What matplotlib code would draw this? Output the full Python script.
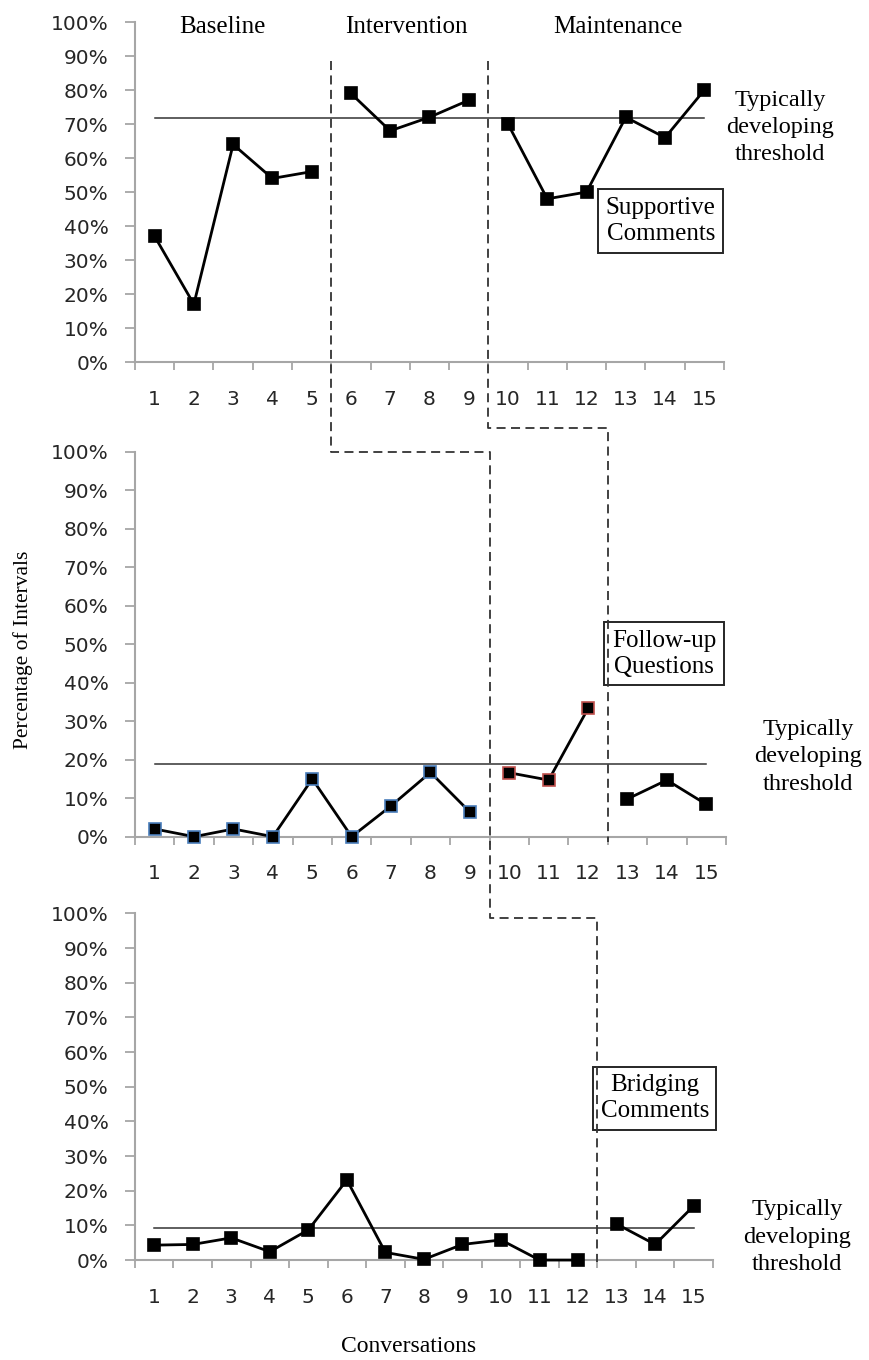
import numpy as np
import matplotlib.pyplot as plt
from matplotlib.lines import Line2D
from matplotlib.ticker import PercentFormatter

# conversation numbers
conv = np.arange(1, 16)

# percentage of intervals per conversation (fractions)
supportive = [0.37, 0.17, 0.64, 0.54, 0.56, 0.79, 0.68, 0.72, 0.77, 0.70, 0.48, 0.50, 0.72, 0.66, 0.80]
followup = [0.02, 0.00, 0.02, 0.00, 0.15, 0.00, 0.08, 0.167, 0.064, 0.166, 0.147, 0.333, 0.098, 0.147, 0.084]
bridging = [0.043, 0.045, 0.064, 0.024, 0.087, 0.231, 0.022, 0.002, 0.045, 0.058, 0.0, 0.0, 0.104, 0.045, 0.156]

# typically developing thresholds
thr_supportive = 0.717
thr_followup = 0.19
thr_bridging = 0.093

# phase segments (start, end) for each behaviour, 1-based conversations
seg_supportive = [(1, 5), (6, 9), (10, 15)]
seg_followup = [(1, 9), (10, 12), (13, 15)]
seg_bridging = [(1, 12), (13, 15)]

phases = ["Baseline", "Intervention", "Maintenance"]
phase_x = [2.72, 7.4, 12.8]

serif = "Liberation Serif"
tick_col = "#262626"
spine_col = "#a6a6a6"

fig = plt.figure(figsize=(8.69, 13.6), dpi=100)
ax1 = fig.add_axes([0.1553, 0.7338, 0.6778, 0.25])
ax2 = fig.add_axes([0.1553, 0.3848, 0.6801, 0.2831])
ax3 = fig.add_axes([0.1553, 0.0735, 0.6651, 0.2549])


def style(ax):
    ax.set_xlim(0.5, 15.5)
    ax.set_ylim(0, 1)
    for s in ["top", "right"]:
        ax.spines[s].set_visible(False)
    for s in ["left", "bottom"]:
        ax.spines[s].set_color(spine_col)
        ax.spines[s].set_linewidth(1.5)
    ax.set_yticks(np.arange(0, 1.01, 0.1))
    ax.yaxis.set_major_formatter(PercentFormatter(1.0, decimals=0))
    ax.set_xticks(conv)
    ax.set_xticklabels([str(c) for c in conv])
    ax.set_xticks(np.arange(0.5, 15.6, 1), minor=True)
    ax.tick_params(axis="x", which="major", length=0, pad=20, labelsize=14.5, labelcolor=tick_col)
    ax.tick_params(axis="x", which="minor", length=6, width=1.3, color=spine_col, direction="out")
    ax.tick_params(axis="y", length=7, width=1.3, color=spine_col, pad=12,
                   labelsize=14.5, labelcolor=tick_col)


def series(ax, vals, segs, edge_cols, thr):
    ax.plot([1, 15], [thr, thr], color="#333333", lw=1.1, zorder=2)
    for (a, b), ec in zip(segs, edge_cols):
        xs = conv[a - 1:b]
        ys = vals[a - 1:b]
        ax.plot(xs, ys, color="black", lw=2.0, marker="s", markersize=8.8,
                markerfacecolor="black", markeredgecolor=ec, markeredgewidth=1.2,
                zorder=3, clip_on=False)


for ax in (ax1, ax2, ax3):
    style(ax)

series(ax1, supportive, seg_supportive, ["black"] * 3, thr_supportive)
series(ax2, followup, seg_followup, ["#4a7ebb", "#c0504d", "black"], thr_followup)
series(ax3, bridging, seg_bridging, ["black"] * 2, thr_bridging)

# phase headers
for name, x in zip(phases, phase_x):
    ax1.text(x, 0.985, name, ha="center", va="center", family=serif, fontsize=18)

# threshold labels
thr_text = "Typically\ndeveloping\nthreshold"
ax1.text(16.93, 0.69, thr_text, ha="center", va="center", family=serif,
         fontsize=17.5, linespacing=1.4, clip_on=False)
ax2.text(17.58, 0.207, thr_text, ha="center", va="center", family=serif,
         fontsize=17.5, linespacing=1.4, clip_on=False)
ax3.text(17.68, 0.066, thr_text, ha="center", va="center", family=serif,
         fontsize=17.5, linespacing=1.4, clip_on=False)

# behaviour boxes
box = dict(boxstyle="square,pad=0.3", facecolor="white", edgecolor="#262626", lw=1.4)
ax1.text(13.89, 0.415, "Supportive\nComments", ha="center", va="center", family=serif,
         fontsize=18, linespacing=1.25, bbox=box, zorder=5)
ax2.text(13.93, 0.475, "Follow-up\nQuestions", ha="center", va="center", family=serif,
         fontsize=18, linespacing=1.25, bbox=box, zorder=5)
ax3.text(13.99, 0.467, "Bridging\nComments", ha="center", va="center", family=serif,
         fontsize=18, linespacing=1.25, bbox=box, zorder=5)

fig.text(0.026, 0.522, "Percentage of Intervals", rotation=90, ha="center", va="center",
         family=serif, fontsize=15.5)
fig.text(0.47, 0.0096, "Conversations", ha="center", va="center", family=serif, fontsize=17)

# staggered phase-change lines running across the panels
inv = fig.transFigure.inverted()


def pt(ax_x, x, ax_y, y):
    px = ax_x.transData.transform((x, 0))[0]
    py = ax_y.transData.transform((0, y))[1]
    return inv.transform((px, py))


line_a = [pt(ax1, 5.5, ax1, 0.885), pt(ax1, 5.5, ax2, 1.0), pt(ax2, 9.5, ax2, 1.0),
          pt(ax2, 9.5, ax3, 0.986), pt(ax3, 12.5, ax3, 0.986), pt(ax3, 12.5, ax3, -0.005)]
line_b = [pt(ax1, 9.5, ax1, 0.885), pt(ax1, 9.5, ax2, 1.062), pt(ax2, 12.5, ax2, 1.062),
          pt(ax2, 12.5, ax2, -0.015)]

for pts in (line_a, line_b):
    pts = np.array(pts)
    fig.add_artist(Line2D(pts[:, 0], pts[:, 1], transform=fig.transFigure,
                          color="#333333", lw=1.3, linestyle=(0, (5, 3)), zorder=6))

fig.savefig("out.png", dpi=100, facecolor="white")
